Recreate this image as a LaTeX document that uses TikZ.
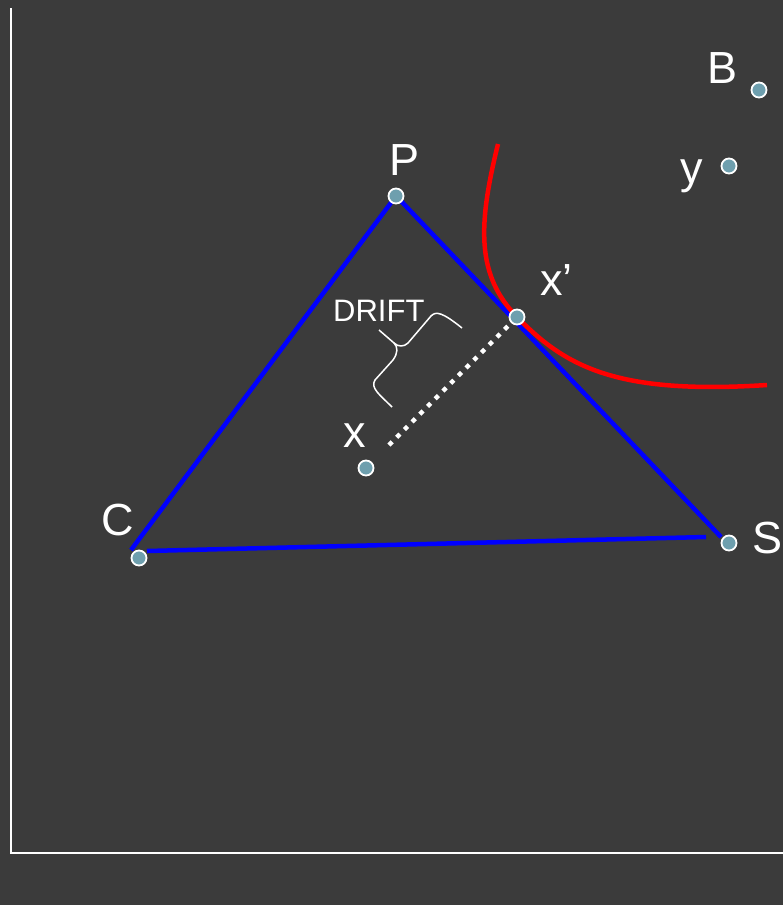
\documentclass[tikz,border=0pt]{standalone}
\usepackage{fontspec}
\setmainfont{Liberation Sans}
\definecolor{bg}{HTML}{3B3B3B}
\definecolor{dotfill}{HTML}{6E9FAE}
\begin{document}
\begin{tikzpicture}[x=1pt,y=-1pt,
  pt/.style={circle,draw=white,line width=1.8pt,fill=dotfill,minimum size=15pt,inner sep=0pt},
  lbl/.style={text=white,font=\fontsize{45}{50}\selectfont,anchor=base,inner sep=0pt},
  edge/.style={draw=blue,line width=4.5pt},
  axis/.style={draw=white,line width=2pt}]
\fill[bg] (0,0) rectangle (783,905);
\useasboundingbox (0,0) rectangle (783,905);
% axes
\coordinate (top) at (11,8);
\coordinate (origin) at (11,853);
\coordinate (right) at (783,853);
\draw[axis] (top) -- (origin) -- (right);
% points
\coordinate (Pc) at (396,196);
\coordinate (Cc) at (139,558);
\coordinate (Sc) at (729,543);
% triangle edges
\coordinate (cp1) at (131,550); \coordinate (cp2) at (393,200);
\coordinate (ps1) at (400,200); \coordinate (ps2) at (721,537);
\coordinate (cs1) at (147,551); \coordinate (cs2) at (706,537);
\draw[edge] (cp1) -- (cp2);
\draw[edge] (ps1) -- (ps2);
\draw[edge] (cs1) -- (cs2);
% red curve
\coordinate (r0) at (498,144);
\coordinate (r1) at (517,317);
\coordinate (r2) at (767,385);
\draw[red,line width=4.5pt] (r0) .. controls (478,225) and (476,275) .. (r1)
  .. controls (565,366) and (615,395) .. (r2);
% dotted drift line
\coordinate (d0) at (389,445);
\coordinate (d1) at (512,322);
\draw[white,line width=4.5pt,dash pattern=on 4.5pt off 6.4pt] (d0) -- (d1);
% brace
\draw[white,line width=1.5pt,line join=round]
  (392,407) .. controls (380,395) and (370,388) .. (375,380)
  -- (393,360) .. controls (398,353) and (398,347) .. (394,343)
  -- (379,330);
\draw[white,line width=1.5pt,line join=round]
  (394,343) .. controls (398,347) and (404,347) .. (408,343)
  -- (431,316) .. controls (436,311) and (442,312) .. (462,328);
% dots
\node[pt] (P) at (Pc) {};
\node[pt] (B) at (759,90) {};
\node[pt] (y) at (729,166) {};
\node[pt] (xp) at (r1) {};
\node[pt] (x) at (366,468) {};
\node[pt] (C) at (Cc) {};
\node[pt] (S) at (Sc) {};
% labels
\node[lbl] (Pl) at (405,175) {P};
\node[lbl] (Bl) at (722,83) {B};
\node[lbl] (yl) at (692,183) {y};
\node[lbl,anchor=base west] (xpl) at (540,295) {x’};
\node[lbl] (xl) at (355,447) {x};
\node[lbl] (Cl) at (118,535) {C};
\node[lbl,anchor=base west] (Sl) at (752,553) {S};
\node[text=white,font=\fontsize{31}{34}\selectfont,anchor=base west,inner sep=0pt] (drift) at (333,321) {DRIFT};
\end{tikzpicture}
\end{document}
